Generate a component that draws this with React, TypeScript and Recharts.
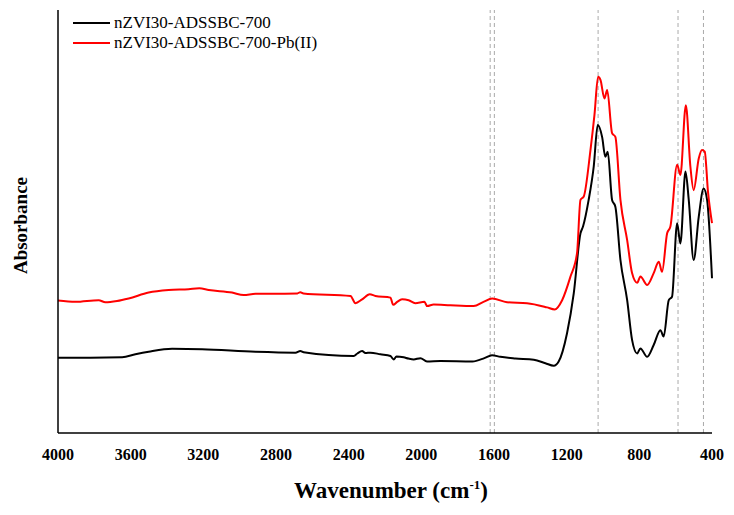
import { Label, Line, LineChart, ReferenceLine, XAxis, YAxis } from "recharts"

const FONT = "'Liberation Serif', 'Times New Roman', serif"

// FTIR spectrum before adsorption
const blackWavenumber = [
  4000, 3822, 3647, 3574, 3501, 3372, 3207, 2913, 2693, 2666, 2648, 2372, 2352, 2326, 2308, 2280, 2225, 2170, 2152,
  2137, 2097, 2071, 2042, 2005, 1969, 1895, 1719, 1653, 1611, 1565, 1482, 1381, 1317, 1271, 1244, 1198, 1161, 1124,
  1110, 1079, 1051, 1029, 1005, 987, 974, 950, 932, 904, 867, 840, 812, 794, 757, 721, 684, 666, 638, 620, 592, 574,
  546, 528, 501, 473, 446, 427, 400,
]
const blackAbsorbance = [
  17.8, 17.8, 17.9, 18.6, 19.2, 19.9, 19.8, 19.2, 19.0, 19.4, 19.1, 18.2, 18.8, 19.4, 18.9, 19.0, 18.6, 18.2, 17.4,
  18.1, 17.9, 17.6, 17.4, 17.7, 16.9, 17.0, 16.9, 17.7, 18.4, 18.0, 17.6, 17.3, 16.5, 15.9, 16.9, 23.6, 33.0, 47.2,
  48.8, 55.1, 63.0, 72.8, 70.0, 65.3, 66.5, 55.1, 53.5, 40.9, 31.4, 22.0, 18.8, 20.0, 18.0, 20.8, 24.3, 22.8, 31.4,
  32.2, 49.6, 44.8, 61.8, 55.1, 40.9, 51.1, 57.8, 55.1, 36.6,
]

// FTIR spectrum after Pb(II) adsorption
const redWavenumber = [
  4000, 3904, 3776, 3739, 3675, 3611, 3501, 3391, 3281, 3222, 3170, 3042, 2978, 2913, 2821, 2682, 2666, 2649, 2390,
  2363, 2326, 2284, 2253, 2170, 2155, 2133, 2106, 2070, 2033, 1983, 1968, 1932, 1840, 1712, 1658, 1610, 1528, 1418,
  1308, 1266, 1225, 1179, 1143, 1124, 1106, 1069, 1047, 1027, 1014, 992, 977, 950, 932, 904, 867, 840, 812, 794, 757,
  721, 693, 675, 647, 629, 592, 574, 544, 519, 501, 473, 455, 440, 422, 400,
]
const redAbsorbance = [
  31.3, 31.0, 31.4, 30.9, 31.2, 31.8, 33.2, 33.8, 34.0, 34.2, 33.8, 33.2, 32.6, 32.9, 32.9, 33.0, 33.3, 33.0, 32.4,
  30.7, 31.6, 32.8, 32.4, 32.0, 30.3, 31.0, 31.6, 31.4, 30.7, 31.0, 30.0, 30.4, 30.2, 30.0, 31.0, 31.8, 30.9, 30.7,
  29.7, 29.2, 31.4, 37.0, 42.5, 55.1, 55.9, 66.9, 75.2, 84.2, 83.5, 79.1, 81.1, 70.9, 70.0, 55.1, 45.6, 37.8, 35.5,
  37.0, 35.0, 37.8, 40.5, 38.1, 47.2, 48.8, 63.4, 61.0, 77.5, 63.0, 57.4, 64.9, 66.9, 66.5, 57.0, 49.6,
]

const xTicks = [4000, 3600, 3200, 2800, 2400, 2000, 1600, 1200, 800, 400]
const bandPositions = [1621, 1598, 1027, 587, 447]

const series = [
  { name: "nZVI30-ADSSBC-700", color: "#000000", wn: blackWavenumber, abs: blackAbsorbance },
  { name: "nZVI30-ADSSBC-700-Pb(II)", color: "#ff0000", wn: redWavenumber, abs: redAbsorbance },
]

const toRows = (wn: number[], abs: number[]) => wn.map((w, i) => ({ wn: w, abs: abs[i] }))

function SpectraLegend() {
  return (
    <div style={{ position: "absolute", left: 73, top: 13, fontFamily: FONT, fontSize: 17, lineHeight: "20px" }}>
      {series.map((s) => (
        <div key={s.name} style={{ display: "flex", alignItems: "center", height: 20 }}>
          <svg width={37} height={4} style={{ marginRight: 4 }}>
            <line x1={0} y1={2} x2={37} y2={2} stroke={s.color} strokeWidth={2} />
          </svg>
          <span>{s.name}</span>
        </div>
      ))}
    </div>
  )
}

export default function App() {
  return (
    <div style={{ position: "absolute", left: 0, top: 0, width: 734, height: 515, background: "#fff" }}>
      <LineChart width={734} height={515} margin={{ top: 10, right: 22, left: 0, bottom: 0 }}>
        <XAxis
          xAxisId="bottom"
          dataKey="wn"
          type="number"
          domain={[400, 4000]}
          reversed
          ticks={xTicks}
          interval={0}
          allowDuplicatedCategory={false}
          tickLine={false}
          tickMargin={10}
          height={82}
          axisLine={{ stroke: "#000", strokeWidth: 1.5 }}
          tick={{ fontFamily: FONT, fontWeight: "bold", fontSize: 16, fill: "#000" }}
        >
          <Label
            content={({ viewBox }: any) => (
              <text
                x={viewBox.x + viewBox.width / 2 + 6}
                y={viewBox.y + 65}
                textAnchor="middle"
                fontFamily={FONT}
                fontWeight="bold"
                fontSize={23}
                fill="#000"
              >
                Wavenumber (cm
                <tspan fontSize={13} dy={-9}>
                  -1
                </tspan>
                <tspan dy={9}>)</tspan>
              </text>
            )}
          />
        </XAxis>
        <XAxis
          xAxisId="top"
          orientation="top"
          type="number"
          domain={[400, 4000]}
          reversed
          height={0}
          tick={false}
          tickLine={false}
          axisLine={{ stroke: "#000", strokeWidth: 1.5 }}
        />
        <YAxis
          yAxisId="left"
          type="number"
          domain={[0, 100]}
          width={58}
          tick={false}
          tickLine={false}
          axisLine={{ stroke: "#000", strokeWidth: 1.5 }}
        >
          <Label
            content={({ viewBox }: any) => {
              const cx = viewBox.x + 27
              const cy = viewBox.y + viewBox.height / 2 + 4
              return (
                <text
                  x={cx}
                  y={cy}
                  transform={`rotate(-90, ${cx}, ${cy})`}
                  textAnchor="middle"
                  fontFamily={FONT}
                  fontWeight="bold"
                  fontSize={19}
                  fill="#000"
                >
                  Absorbance
                </text>
              )
            }}
          />
        </YAxis>
        <YAxis
          yAxisId="right"
          orientation="right"
          type="number"
          domain={[0, 100]}
          width={0}
          tick={false}
          tickLine={false}
          axisLine={{ stroke: "#000", strokeWidth: 1.5 }}
        />
        {bandPositions.map((b) => (
          <ReferenceLine
            key={b}
            x={b}
            xAxisId="bottom"
            yAxisId="left"
            stroke="#aaaaaa"
            strokeWidth={1}
            strokeDasharray="4 3"
          />
        ))}
        {series.map((s) => (
          <Line
            key={s.name}
            xAxisId="bottom"
            yAxisId="left"
            data={toRows(s.wn, s.abs)}
            dataKey="abs"
            name={s.name}
            type="monotone"
            stroke={s.color}
            strokeWidth={2}
            dot={false}
            isAnimationActive={false}
          />
        ))}
      </LineChart>
      <SpectraLegend />
    </div>
  )
}
